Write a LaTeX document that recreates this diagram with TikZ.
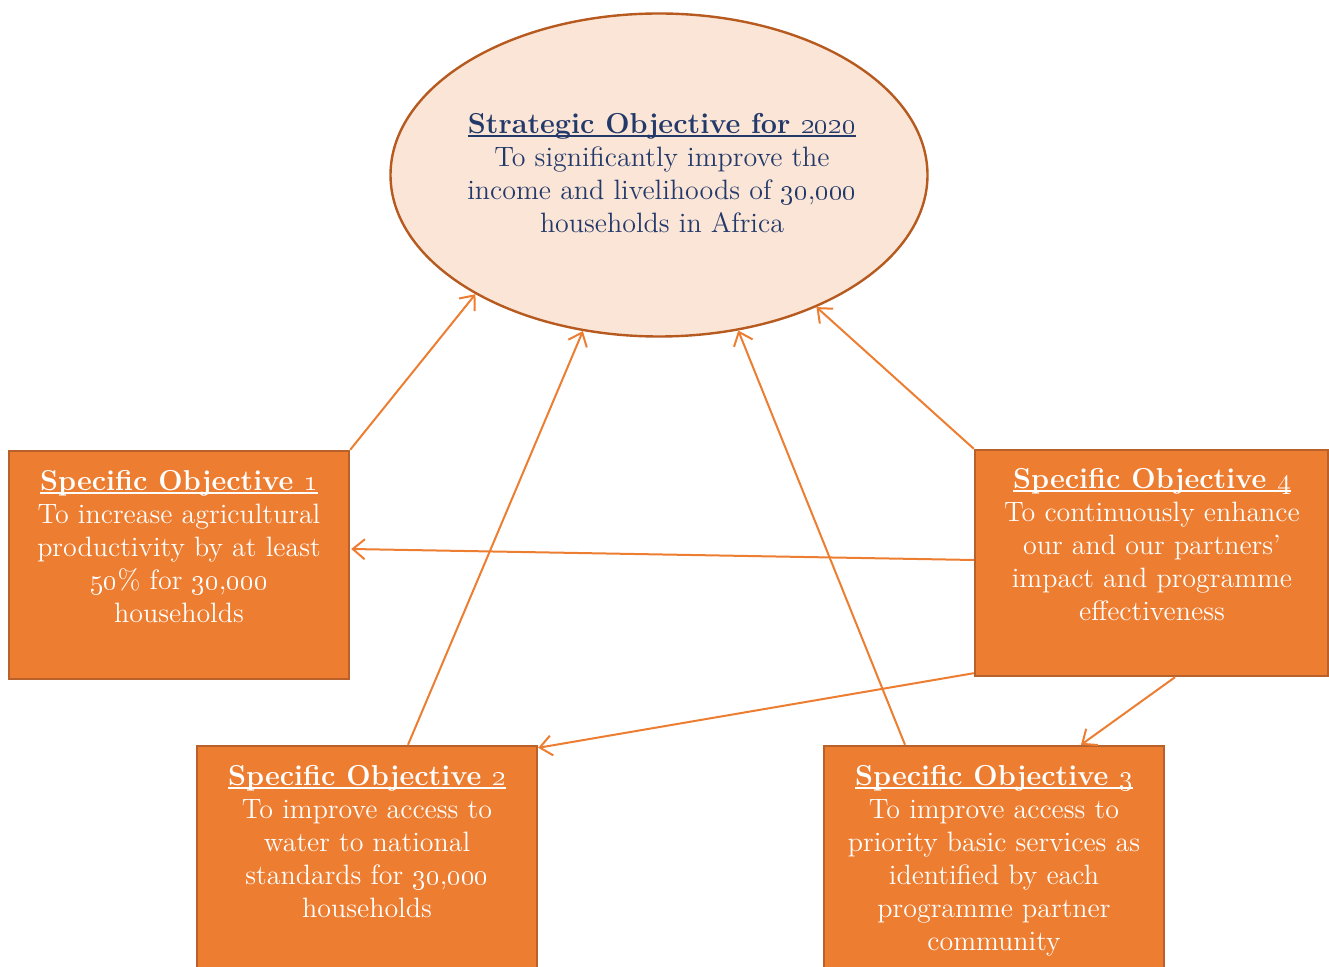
\documentclass[tikz,border=0pt]{standalone}
\usetikzlibrary{shapes.geometric,arrows.meta,calc}
\definecolor{orfill}{HTML}{ED7D31}
\definecolor{orline}{HTML}{B9612B}
\definecolor{elfill}{HTML}{FBE5D6}
\definecolor{elline}{HTML}{B65A1F}
\definecolor{navy}{HTML}{22396A}
\newcommand\myul[1]{\setbox0\hbox{#1}\rlap{\rule[-1.6pt]{\wd0}{0.7pt}}\box0}
\newcommand\osn[1]{\oldstylenums{#1}}
\newcommand\firstline{\rule{0pt}{10.5pt}}
\newcommand\ttl[1]{{\fontsize{14.4}{16.5}\selectfont\bfseries\myul{#1}}}
\begin{document}
\begin{tikzpicture}[x=0.5pt,y=-0.5pt,
  objbox/.style={draw=orline, line width=1.2pt, fill=orfill, rectangle, inner sep=0pt},
  objtext/.style={text=white, align=center, anchor=north, inner sep=0pt, font=\fontsize{14}{16.5}\selectfont},
  link/.style={draw=orfill, line width=1pt, -{Straight Barb[length=6pt,width=10pt,line width=1pt]}}]
\clip (0,0) rectangle (1329,967);
\node[ellipse, draw=elline, line width=1.2pt, fill=elfill, minimum width=268.5pt, minimum height=161.5pt, inner sep=0pt] (strat) at (659,175) {};
\node[objtext, text=navy] (stratt) at (662,112) {\firstline\ttl{Strategic Objective for \osn{2020}}\\
To significantly improve the\\ income and livelihoods of \osn{30},\osn{000}\\ households in Africa};

\node[objbox, minimum width=170pt, minimum height=114pt] (so1) at (179,565) {};
\node[objbox, minimum width=176.5pt, minimum height=113pt] (so4) at (1151.5,563) {};
\node[objbox, minimum width=170pt, minimum height=125pt] (so2) at (367,871) {};
\node[objbox, minimum width=170pt, minimum height=125pt] (so3) at (994,871) {};

\node[objtext] (so1t) at (179,469) {\firstline\ttl{Specific Objective \osn{1}}\\
To increase agricultural\\ productivity by at least\\ \osn{50}\% for \osn{30},\osn{000}\\ households};
\node[objtext] (so4t) at (1152,467) {\firstline\ttl{Specific Objective \osn{4}}\\
To continuously enhance\\ our and our partners'\\ impact and programme\\ effectiveness};
\node[objtext] (so2t) at (367,764) {\firstline\ttl{Specific Objective \osn{2}}\\
To improve access to\\ water to national\\ standards for \osn{30},\osn{000}\\ households};
\node[objtext] (so3t) at (994,764) {\firstline\ttl{Specific Objective \osn{3}}\\
To improve access to\\ priority basic services as\\ identified by each\\ programme partner\\ community};

\draw[link] (so1.north east) -- (strat.213.2);
\draw[link] ($(so2.north)+(41,0)$) -- (strat.244);
\draw[link] ($(so3.north)+(-89,0)$) -- (strat.297.1);
\draw[link] (so4.north west) -- (strat.320.1);
\draw[link] ($(so4.west)+(0,-3)$) -- ($(so1.east)+(1,-16)$);
\draw[link] ($(so4.south west)+(0,-4)$) -- ($(so2.north east)+(0,3)$);
\draw[link] ($(so4.south)+(23.5,0)$) -- ($(so3.north)+(87,0)$);
\end{tikzpicture}
\end{document}
